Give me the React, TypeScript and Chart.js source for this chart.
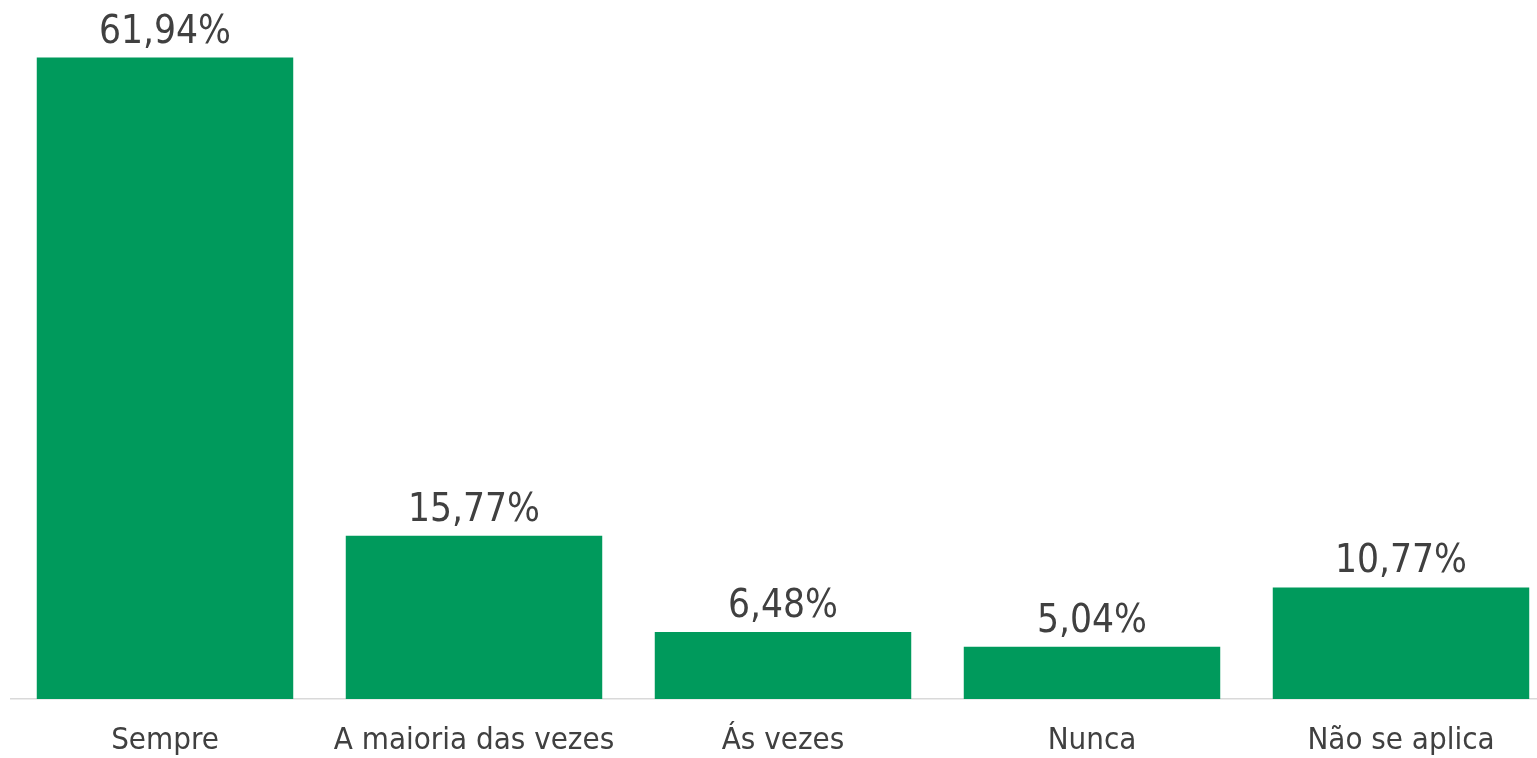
import React, { useEffect, useRef } from "react";
import { Chart, registerables } from "chart.js";

Chart.register(...registerables);

const categories = ["Sempre", "A maioria das vezes", "Ás vezes", "Nunca", "Não se aplica"];
const values = [61.94, 15.77, 6.48, 5.04, 10.77];
const valueLabels = ["61,94%", "15,77%", "6,48%", "5,04%", "10,77%"];

const FONT = "'DejaVu Sans Condensed', 'DejaVu Sans', sans-serif";

const valueLabelPlugin = {
  id: "valueLabels",
  afterDatasetsDraw(chart: any) {
    const ctx = chart.ctx;
    const meta = chart.getDatasetMeta(0);
    ctx.save();
    ctx.font = `38.5px ${FONT}`;
    ctx.fillStyle = "#404040";
    ctx.textAlign = "center";
    ctx.textBaseline = "alphabetic";
    meta.data.forEach((bar: any, i: number) => {
      ctx.fillText(valueLabels[i], bar.x, bar.y - 15);
    });
    ctx.restore();
  },
};

export default function App() {
  const ref = useRef<HTMLCanvasElement>(null);
  useEffect(() => {
    document.body.style.overflow = "hidden";
    const chart = new Chart(ref.current!, {
      type: "bar",
      data: {
        labels: categories,
        datasets: [
          {
            data: values,
            backgroundColor: "#009A5C",
            categoryPercentage: 1,
            barPercentage: 0.83,
          },
        ],
      },
      options: {
        animation: false,
        responsive: false,
        maintainAspectRatio: false,
        layout: { padding: { left: 10.5, right: 4.5, top: 57, bottom: 0 } },
        plugins: { legend: { display: false }, tooltip: { enabled: false } },
        scales: {
          x: {
            grid: { display: false, drawTicks: false },
            border: { display: true, color: "#d9d9d9", width: 1.5 },
            ticks: {
              color: "#404040",
              font: { family: FONT, size: 31 },
              padding: 23,
              maxRotation: 0,
              autoSkip: false,
            },
            afterFit: (scale: any) => {
              scale.height = 59;
            },
          },
          y: { display: false, min: 0, max: 62 },
        },
      },
      plugins: [valueLabelPlugin],
    });
    return () => chart.destroy();
  }, []);
  return (
    <div style={{ position: "fixed", left: 0, top: 0, width: 1560, height: 758 }}>
      <canvas ref={ref} width={1560} height={758} style={{ width: 1560, height: 758 }} />
    </div>
  );
}
